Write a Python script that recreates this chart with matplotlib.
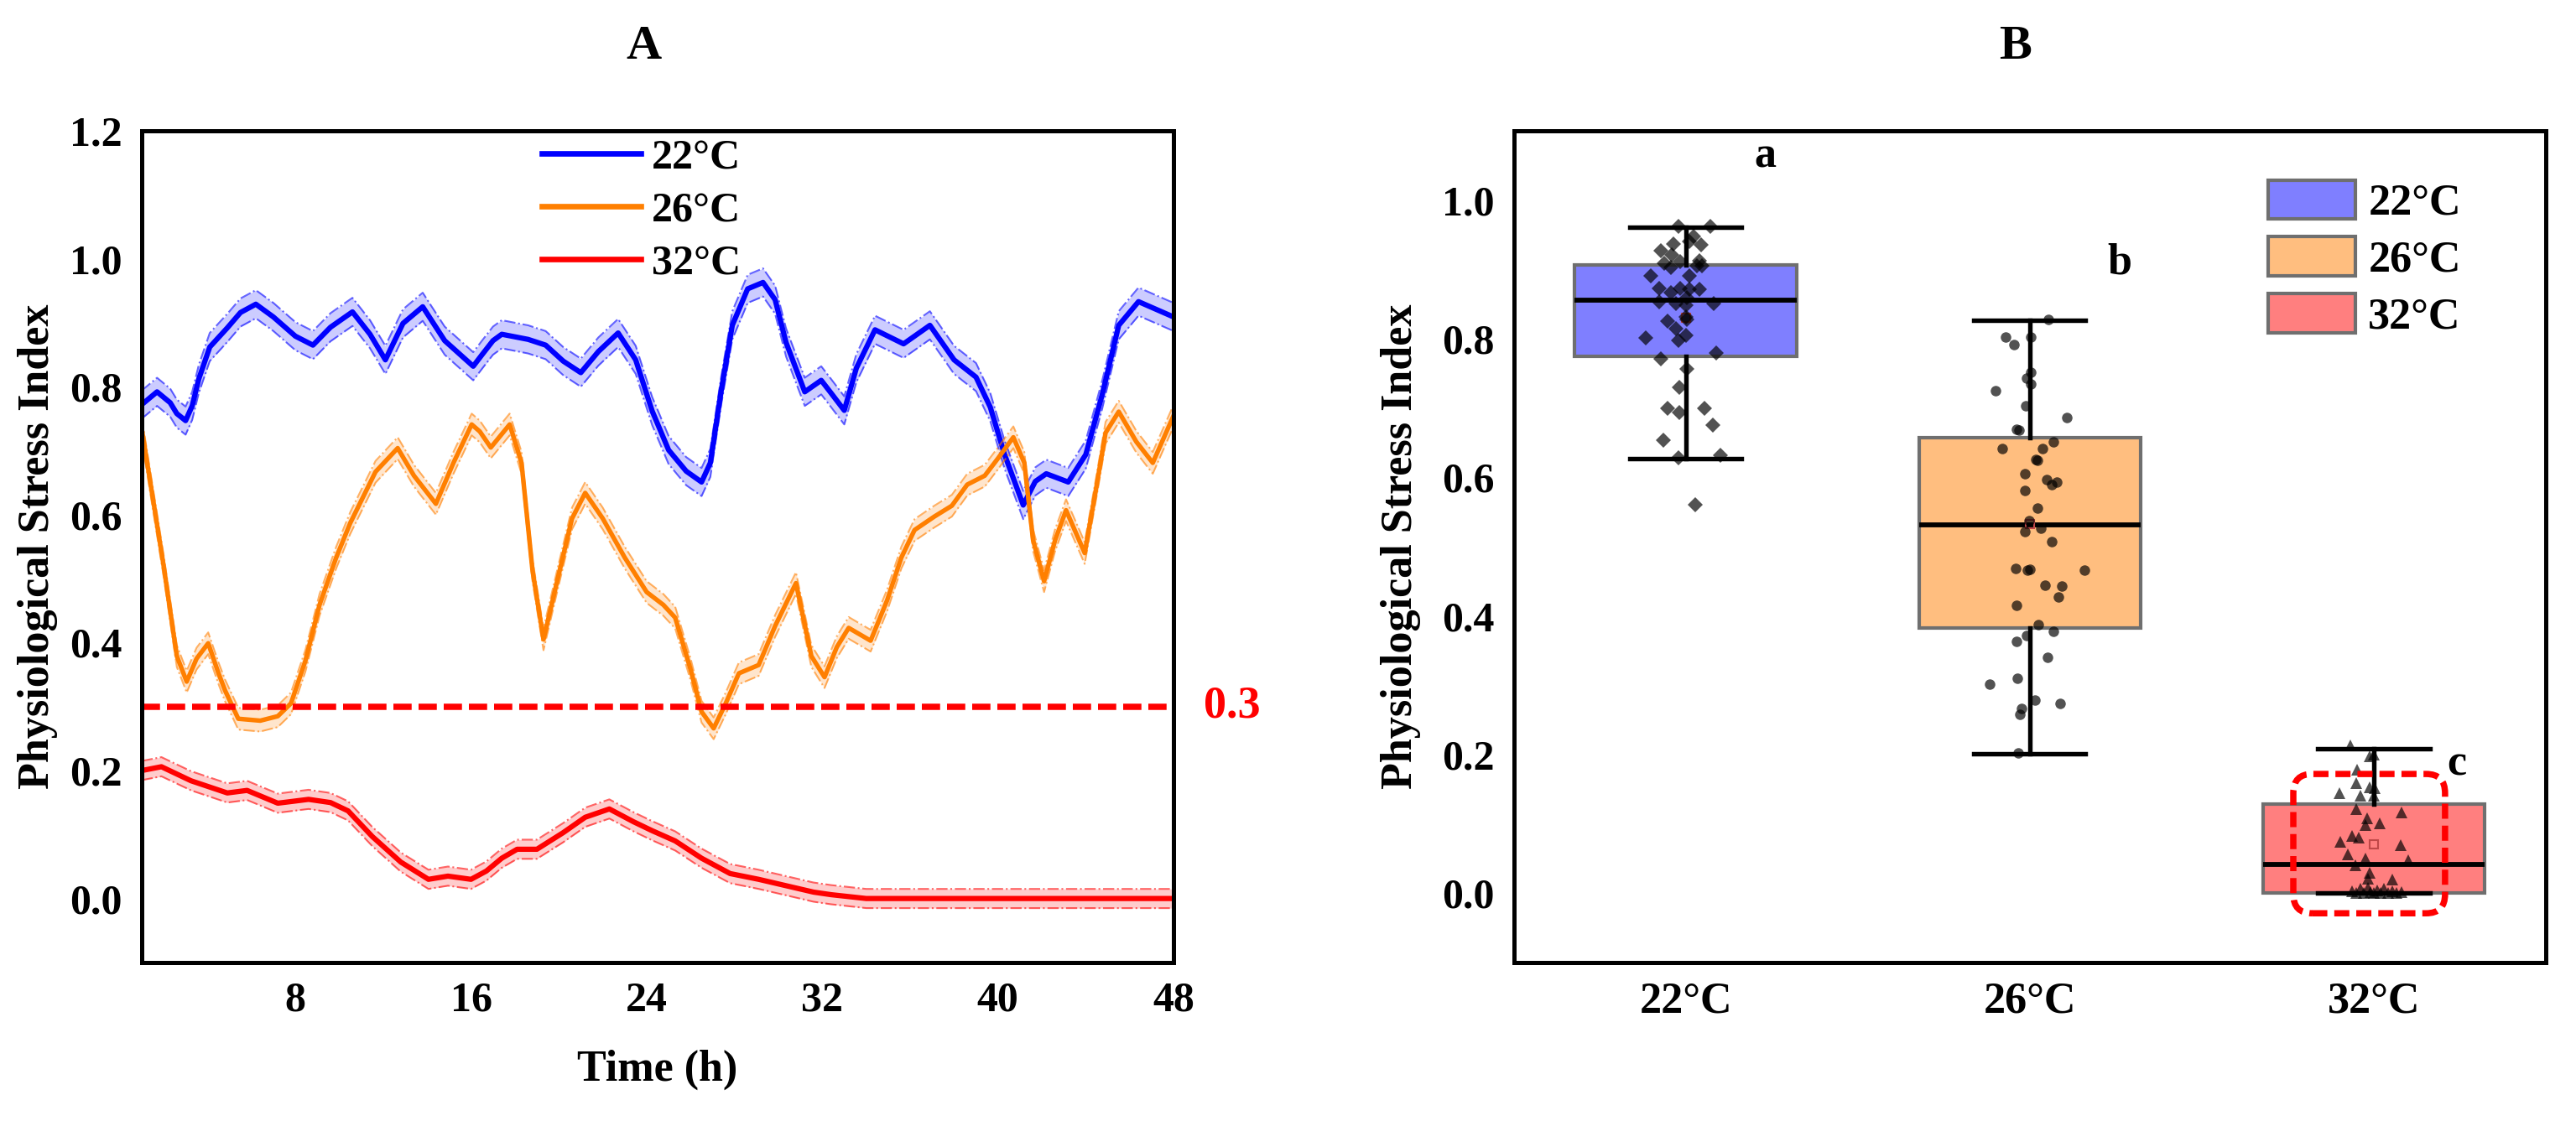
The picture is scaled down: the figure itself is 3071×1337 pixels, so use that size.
import numpy as np
import matplotlib
matplotlib.use("Agg")
import matplotlib.pyplot as plt
from matplotlib.patches import Patch, FancyBboxPatch
from matplotlib.lines import Line2D
import matplotlib.transforms as mtransforms

plt.rcParams['font.family'] = ['Liberation Serif', 'DejaVu Serif']
plt.rcParams['font.weight'] = 'bold'
plt.rcParams['axes.labelweight'] = 'bold'

labels = ["22°C", "26°C", "32°C"]
colors = ["#0000FF", "#FF7F00", "#FF0000"]

# ---- Panel A: stress index over time ----
hours_22 = [1.0, 1.7, 2.3, 2.6, 3.0, 3.3, 3.6, 4.1, 4.9, 5.5, 6.2, 7.0, 8.0, 8.8, 9.6,
            10.6, 11.4, 12.1, 12.9, 13.8, 14.8, 16.1, 16.5, 17.0, 17.4, 18.6, 19.4, 20.2,
            21.0, 21.8, 22.7, 23.5, 24.25, 25.0, 25.8, 26.5, 26.9, 27.4, 27.9, 28.6, 29.3,
            29.85, 30.35, 31.2, 31.95, 32.4, 33.0, 33.55, 34.4, 35.7, 36.9, 38.0, 39.0,
            39.65, 40.3, 41.15, 41.7, 42.2, 43.2, 44.0, 44.75, 45.5, 46.4, 48.0]
stress_22 = [0.772, 0.792, 0.775, 0.758, 0.747, 0.770, 0.812, 0.862, 0.892, 0.916, 0.929,
             0.909, 0.879, 0.865, 0.893, 0.917, 0.882, 0.842, 0.899, 0.925, 0.872, 0.832,
             0.850, 0.872, 0.882, 0.874, 0.865, 0.840, 0.822, 0.855, 0.884, 0.842, 0.762,
             0.701, 0.668, 0.651, 0.681, 0.795, 0.896, 0.953, 0.963, 0.936, 0.869, 0.792,
             0.810, 0.790, 0.763, 0.829, 0.889, 0.867, 0.896, 0.842, 0.815, 0.768, 0.694,
             0.615, 0.652, 0.664, 0.651, 0.694, 0.788, 0.896, 0.933, 0.909]

hours_26 = [1.0, 2.0, 2.6, 3.05, 3.5, 4.03, 4.5, 4.8, 5.4, 6.4, 7.2, 7.8, 8.46, 9.1, 9.86,
            10.5, 11.65, 12.66, 13.4, 14.4, 15.2, 16.03, 16.4, 16.9, 17.76, 18.3, 18.8,
            19.3, 19.9, 20.6, 21.2, 22.0, 23.0, 24.0, 24.76, 25.3, 26.0, 26.5, 27.05, 27.6,
            28.2, 29.1, 29.85, 30.8, 31.5, 32.1, 32.66, 33.2, 34.2, 34.95, 35.6, 36.2, 37.1,
            37.9, 38.6, 39.4, 40.0, 40.7, 41.2, 41.6, 42.1, 42.6, 43.1, 43.95, 44.5, 44.9,
            45.5, 46.3, 47.05, 48.0]
stress_26 = [0.735, 0.520, 0.379, 0.339, 0.375, 0.399, 0.352, 0.325, 0.281, 0.278, 0.285,
             0.305, 0.372, 0.459, 0.533, 0.587, 0.667, 0.704, 0.661, 0.617, 0.681, 0.741,
             0.730, 0.705, 0.741, 0.681, 0.513, 0.405, 0.493, 0.594, 0.634, 0.594, 0.533,
             0.479, 0.459, 0.439, 0.358, 0.292, 0.266, 0.305, 0.352, 0.365, 0.426, 0.493,
             0.379, 0.346, 0.393, 0.423, 0.403, 0.466, 0.533, 0.576, 0.597, 0.614, 0.647,
             0.661, 0.688, 0.721, 0.681, 0.560, 0.496, 0.560, 0.607, 0.540, 0.647, 0.728,
             0.761, 0.714, 0.681, 0.755]

hours_32 = [1.0, 1.9, 3.25, 4.9, 5.8, 7.2, 8.6, 9.6, 10.4, 11.5, 12.8, 14.06, 14.95, 16.0,
            16.7, 17.4, 18.1, 19.0, 20.2, 21.2, 22.3, 23.4, 24.25, 25.3, 26.5, 27.8, 29.1,
            30.35, 31.6, 32.4, 34.0, 41.0, 48.0]
stress_32 = [0.200, 0.206, 0.184, 0.165, 0.169, 0.149, 0.155, 0.150, 0.137, 0.097, 0.057,
             0.030, 0.035, 0.030, 0.043, 0.063, 0.077, 0.077, 0.103, 0.127, 0.140, 0.120,
             0.106, 0.090, 0.063, 0.039, 0.030, 0.020, 0.010, 0.006, 0.000, 0.000, 0.000]

# half width of the shaded error band of each series
sem_22 = 0.022
sem_26 = 0.017
sem_32 = 0.015

threshold = 0.3

# ---- Panel B: individual points (jitter offset, value) and box statistics ----
jit_22 = [-0.020, 0.071, -0.036, 0.023, 0.045, 0.010, -0.073, -0.040, -0.063, -0.016,
          0.041, 0.047, -0.042, 0.033, -0.101, 0.010, -0.077, -0.044, -0.016, 0.010,
          0.041, -0.077, -0.028, 0.004, 0.000, 0.081, -0.052, 0.004, 0.000, -0.028,
          -0.117, -0.020, 0.002, -0.071, 0.089, 0.004, -0.018, -0.052, -0.018, 0.054,
          0.080, -0.066, -0.020, 0.101, 0.028]
psi_22 = [0.962, 0.962, 0.937, 0.948, 0.936, 0.940, 0.927, 0.921, 0.909, 0.911, 0.913,
          0.905, 0.903, 0.905, 0.891, 0.891, 0.873, 0.867, 0.873, 0.871, 0.871, 0.853,
          0.851, 0.859, 0.849, 0.851, 0.826, 0.828, 0.832, 0.814, 0.801, 0.798, 0.805,
          0.771, 0.779, 0.756, 0.730, 0.699, 0.693, 0.699, 0.675, 0.654, 0.628, 0.632,
          0.560]

jit_26 = [0.053, -0.071, -0.045, 0.004, 0.002, -0.010, 0.004, -0.100, -0.012, 0.107,
          -0.039, -0.031, 0.069, -0.081, 0.038, 0.018, 0.023, -0.013, 0.049, 0.079,
          0.063, -0.015, 0.022, -0.003, -0.015, 0.032, 0.063, -0.041, -0.006, 0.000,
          0.160, 0.044, 0.093, 0.084, -0.039, 0.026, 0.069, -0.009, -0.039, 0.052,
          -0.036, -0.116, 0.016, 0.089, -0.024, -0.028, -0.033]
psi_26 = [0.828, 0.802, 0.791, 0.802, 0.752, 0.743, 0.735, 0.725, 0.703, 0.686, 0.669,
          0.668, 0.651, 0.641, 0.641, 0.626, 0.625, 0.605, 0.597, 0.593, 0.589, 0.581,
          0.556, 0.537, 0.522, 0.526, 0.507, 0.469, 0.466, 0.467, 0.466, 0.444, 0.443,
          0.428, 0.415, 0.388, 0.378, 0.372, 0.363, 0.340, 0.310, 0.301, 0.279, 0.274,
          0.267, 0.258, 0.202]

jit_32 = [-0.067, -0.012, 0.000, -0.049, -0.051, -0.100, -0.039, -0.012, 0.002, 0.000,
          -0.052, 0.080, -0.020, 0.018, -0.024, -0.063, -0.044, -0.098, 0.078, -0.075,
          -0.024, 0.099, -0.053, -0.012, 0.054, -0.018, -0.063, -0.051, -0.039, -0.028,
          -0.018, -0.009, 0.000, 0.010, 0.019, 0.030, 0.042, 0.054, 0.066, 0.080]
psi_32 = [0.213, 0.197, 0.200, 0.178, 0.159, 0.144, 0.141, 0.153, 0.152, 0.141, 0.121,
          0.117, 0.108, 0.101, 0.098, 0.083, 0.080, 0.074, 0.069, 0.056, 0.050, 0.048,
          0.040, 0.029, 0.020, 0.021, 0.003, 0.000, 0.006, 0.000, 0.008, 0.002, 0.000,
          0.004, 0.000, 0.006, 0.000, 0.003, 0.000, 0.002]

q1_vals = [0.774, 0.383, 0.000]
med_vals = [0.856, 0.531, 0.041]
q3_vals = [0.907, 0.657, 0.128]
whislo_vals = [0.627, 0.201, 0.000]
whishi_vals = [0.961, 0.827, 0.209]
sig_letters = ["a", "b", "c"]
letter_x = [0.23, 1.26, 2.24]
letter_y = [1.063, 0.910, 0.186]

# ---- figure ----
fig = plt.figure(figsize=(3071 / 300, 1337 / 300), dpi=300)
axA = fig.add_axes([0.0550, 0.1414, 0.4006, 0.7419])
axB = fig.add_axes([0.5876, 0.1414, 0.4007, 0.7419])

series = [(hours_22, stress_22, sem_22), (hours_26, stress_26, sem_26),
          (hours_32, stress_32, sem_32)]
line_w = [1.5, 1.3, 1.5]
for (h, s, e), c, lw in zip(series, colors, line_w):
    h = np.array(h)
    s = np.array(s)
    axA.fill_between(h, s - e, s + e, color=c, alpha=0.2, lw=0)
    axA.plot(h, s - e, color=c, lw=0.5, ls='-.', alpha=0.6)
    axA.plot(h, s + e, color=c, lw=0.5, ls='-.', alpha=0.6)
    axA.plot(h, s, color=c, lw=lw, solid_joinstyle='round')

axA.axhline(threshold, color='#FF0000', lw=1.8, ls=(0, (2.9, 1.1)))
trans = mtransforms.blended_transform_factory(axA.transAxes, axA.transData)
axA.text(1.029, threshold, "0.3", transform=trans, color='#FF0000', fontsize=13,
         fontweight='bold', ha='left', va='center')

axA.set_xlim(1, 48)
axA.set_ylim(-0.1, 1.2)
axA.set_xticks([8, 16, 24, 32, 40, 48])
yt = [0.0, 0.2, 0.4, 0.6, 0.8, 1.0, 1.2]
axA.set_yticks(yt)
axA.set_yticklabels([f"{v:.1f}" for v in yt])
axA.set_xlabel("Time (h)", fontsize=12.5, fontweight='bold')
axA.xaxis.set_label_coords(0.5, -0.105)
axA.set_ylabel("Physiological Stress Index", fontsize=12.5, fontweight='bold')
axA.yaxis.set_label_coords(-0.081, 0.5)

handlesA = [Line2D([], [], color=c, lw=1.6) for c in colors]
axA.legend(handlesA, labels, loc='upper left', bbox_to_anchor=(0.388, 0.990),
           frameon=False, fontsize=12, handlelength=2.36, handletextpad=0.25,
           labelspacing=0.34, borderpad=0, borderaxespad=0)

# ---- panel B ----
point_sets = [(jit_22, psi_22, 'D', 3.2), (jit_26, psi_26, 'o', 3.0),
              (jit_32, psi_32, '^', 3.3)]
stats = []
for i, lab in enumerate(labels):
    stats.append(dict(label=lab, q1=q1_vals[i], med=med_vals[i], q3=q3_vals[i],
                      whislo=whislo_vals[i], whishi=whishi_vals[i],
                      mean=float(np.mean(point_sets[i][1])), fliers=[]))

bp = axB.bxp(stats, positions=[0, 1, 2], widths=0.645, capwidths=0.325,
             patch_artist=True, showmeans=True, showfliers=False,
             boxprops=dict(edgecolor='#6f6f6f', lw=1.0),
             medianprops=dict(color='black', lw=1.4),
             whiskerprops=dict(color='black', lw=1.3),
             capprops=dict(color='black', lw=1.3),
             meanprops=dict(marker='s', markerfacecolor='none',
                            markeredgecolor='#c04848', markersize=2.6,
                            markeredgewidth=0.5))
for box, c in zip(bp['boxes'], colors):
    box.set_facecolor(matplotlib.colors.to_rgba(c, 0.5))

for i, (jx, vals, mk, ms) in enumerate(point_sets):
    axB.plot(i + np.array(jx), vals, ls='none', marker=mk, ms=ms, color='black',
             alpha=0.68, mec='none', zorder=4)

for lx, ly, t in zip(letter_x, letter_y, sig_letters):
    axB.text(lx, ly, t, fontsize=12.5, fontweight='bold', ha='center', va='center')

rbox = FancyBboxPatch((1.766, -0.029), 0.441, 0.201,
                      boxstyle="round,pad=0,rounding_size=0.055", mutation_aspect=0.5,
                      fill=False, edgecolor='#FF0000', lw=1.8, ls=(0, (2.4, 1.1)),
                      zorder=5)
axB.add_patch(rbox)

axB.set_xlim(-0.5, 2.5)
axB.set_ylim(-0.1, 1.1)
axB.set_xticks([0, 1, 2])
axB.set_xticklabels(labels)
ytb = [0.0, 0.2, 0.4, 0.6, 0.8, 1.0]
axB.set_yticks(ytb)
axB.set_yticklabels([f"{v:.1f}" for v in ytb])
axB.set_ylabel("Physiological Stress Index", fontsize=12.5, fontweight='bold')
axB.yaxis.set_label_coords(-0.090, 0.5)

handlesB = [Patch(facecolor=matplotlib.colors.to_rgba(c, 0.5), edgecolor='#6f6f6f', lw=1.0)
            for c in colors]
axB.legend(handlesB, labels, loc='upper left', bbox_to_anchor=(0.731, 0.941),
           frameon=False, fontsize=12.5, handlelength=2.0, handleheight=1.0,
           handletextpad=0.29, labelspacing=0.3, borderpad=0, borderaxespad=0)

for ax in (axA, axB):
    ax.tick_params(length=0, pad=5.5, labelsize=12)
    for sp in ax.spines.values():
        sp.set_linewidth(1.2)
axB.tick_params(axis='x', labelsize=12.5)

fig.text(0.2498, 0.9583, "A", fontsize=14, fontweight='bold', ha='center', va='center')
fig.text(0.7822, 0.9583, "B", fontsize=14, fontweight='bold', ha='center', va='center')

fig.savefig("out.png", dpi=300)
